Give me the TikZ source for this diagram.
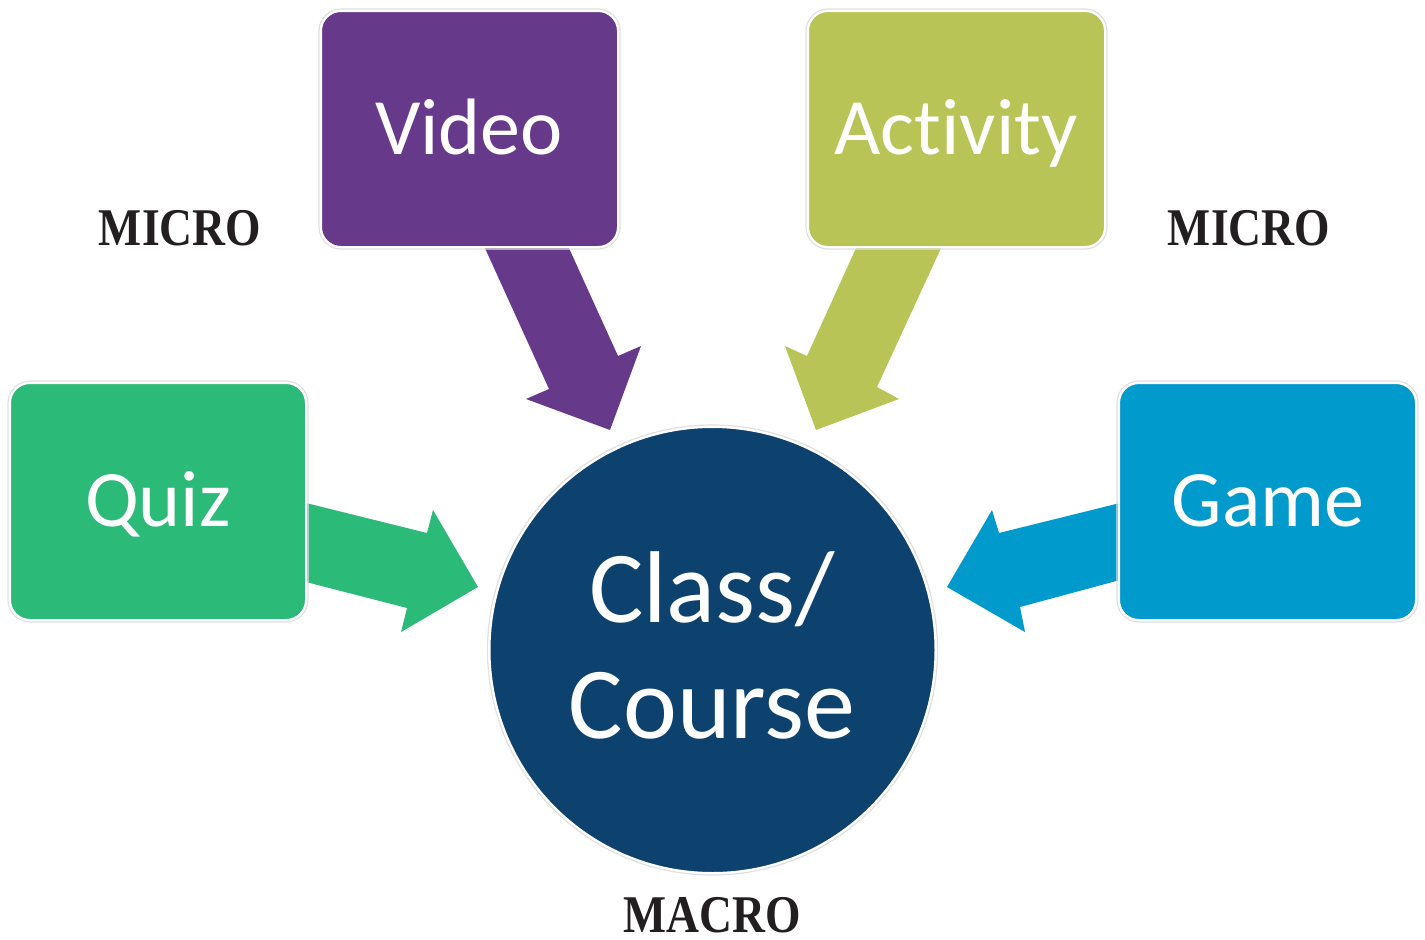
\documentclass[tikz,border=0pt]{standalone}
\usepackage{fontspec}
\newfontfamily\boxfont{Carlito}[Ligatures=NoCommon]
\newfontfamily\labfont{Liberation Serif}[FakeStretch=0.86]
\definecolor{quizgreen}{RGB}{44,186,120}
\definecolor{videopurple}{RGB}{103,57,138}
\definecolor{actolive}{RGB}{184,196,86}
\definecolor{gameblue}{RGB}{0,154,204}
\definecolor{coursenavy}{RGB}{13,65,110}
\definecolor{labelink}{RGB}{35,31,32}
\begin{document}
\begin{tikzpicture}[x=1pt,y=-1pt,
  tile/.style={rounded corners=20pt, draw=white, line width=2pt},
  tileedge/.style={rounded corners=22pt, draw=black!12, line width=1.2pt},
  tiletext/.style={text=white, font=\boxfont\fontsize{80}{90}\selectfont, anchor=base, inner sep=0pt},
  scaletext/.style={text=labelink, font=\labfont\bfseries\fontsize{53}{60}\selectfont, anchor=base, inner sep=0pt}
]
\useasboundingbox[fill=white] (0,0) rectangle (1425,940);

% block arrows pointing to the centre
\fill[quizgreen] (306,503) -- (427,533) -- (433,510) -- (478,587) -- (401,632) -- (407,608) -- (306,582) -- cycle;
\fill[gameblue] (1120,503) -- (999,533) -- (992,510) -- (947,587) -- (1025,632) -- (1020,607) -- (1120,580) -- cycle;
\fill[videopurple] (484,246) -- (568,246) -- (618,356) -- (641,346) -- (610,430) -- (526,399) -- (549,389) -- cycle;
\fill[actolive] (857,246) -- (942,246) -- (877,387) -- (899,399) -- (816,430) -- (785,346) -- (807,356) -- cycle;

% micro tiles
\draw[tileedge] (8,381) rectangle (308,622);
\filldraw[tile, fill=quizgreen] (10,383) rectangle (306,620);
\draw[tileedge] (319,9) rectangle (620,249);
\filldraw[tile, fill=videopurple] (321,11) rectangle (618,247);
\draw[tileedge] (806,9) rectangle (1107,249);
\filldraw[tile, fill=actolive] (808,11) rectangle (1105,247);
\draw[tileedge] (1117,381) rectangle (1418,622);
\filldraw[tile, fill=gameblue] (1119,383) rectangle (1416,620);

% macro circle
\draw[black!12, line width=1.2pt] (712.5,650) circle (225);
\filldraw[fill=coursenavy, draw=white, line width=2pt] (712.5,650) circle (223);

% tile captions
\node[tiletext] (quiz) at (158,526) {Quiz};
\node[tiletext] (video) at (469,154) {Video};
\node[tiletext] (activity) at (956,154) {Activity};
\node[tiletext] (game) at (1268,526) {Game};
\node[tiletext, font=\boxfont\fontsize{102}{116}\selectfont] (classline) at (712,622) {Class/};
\node[tiletext, font=\boxfont\fontsize{102}{116}\selectfont] (courseline) at (712,738) {Course};

% level labels
\node[scaletext] (microleft) at (180,245) {MICRO};
\node[scaletext] (microright) at (1249,245) {MICRO};
\node[scaletext] (macro) at (712,932) {MACRO};
\end{tikzpicture}
\end{document}
